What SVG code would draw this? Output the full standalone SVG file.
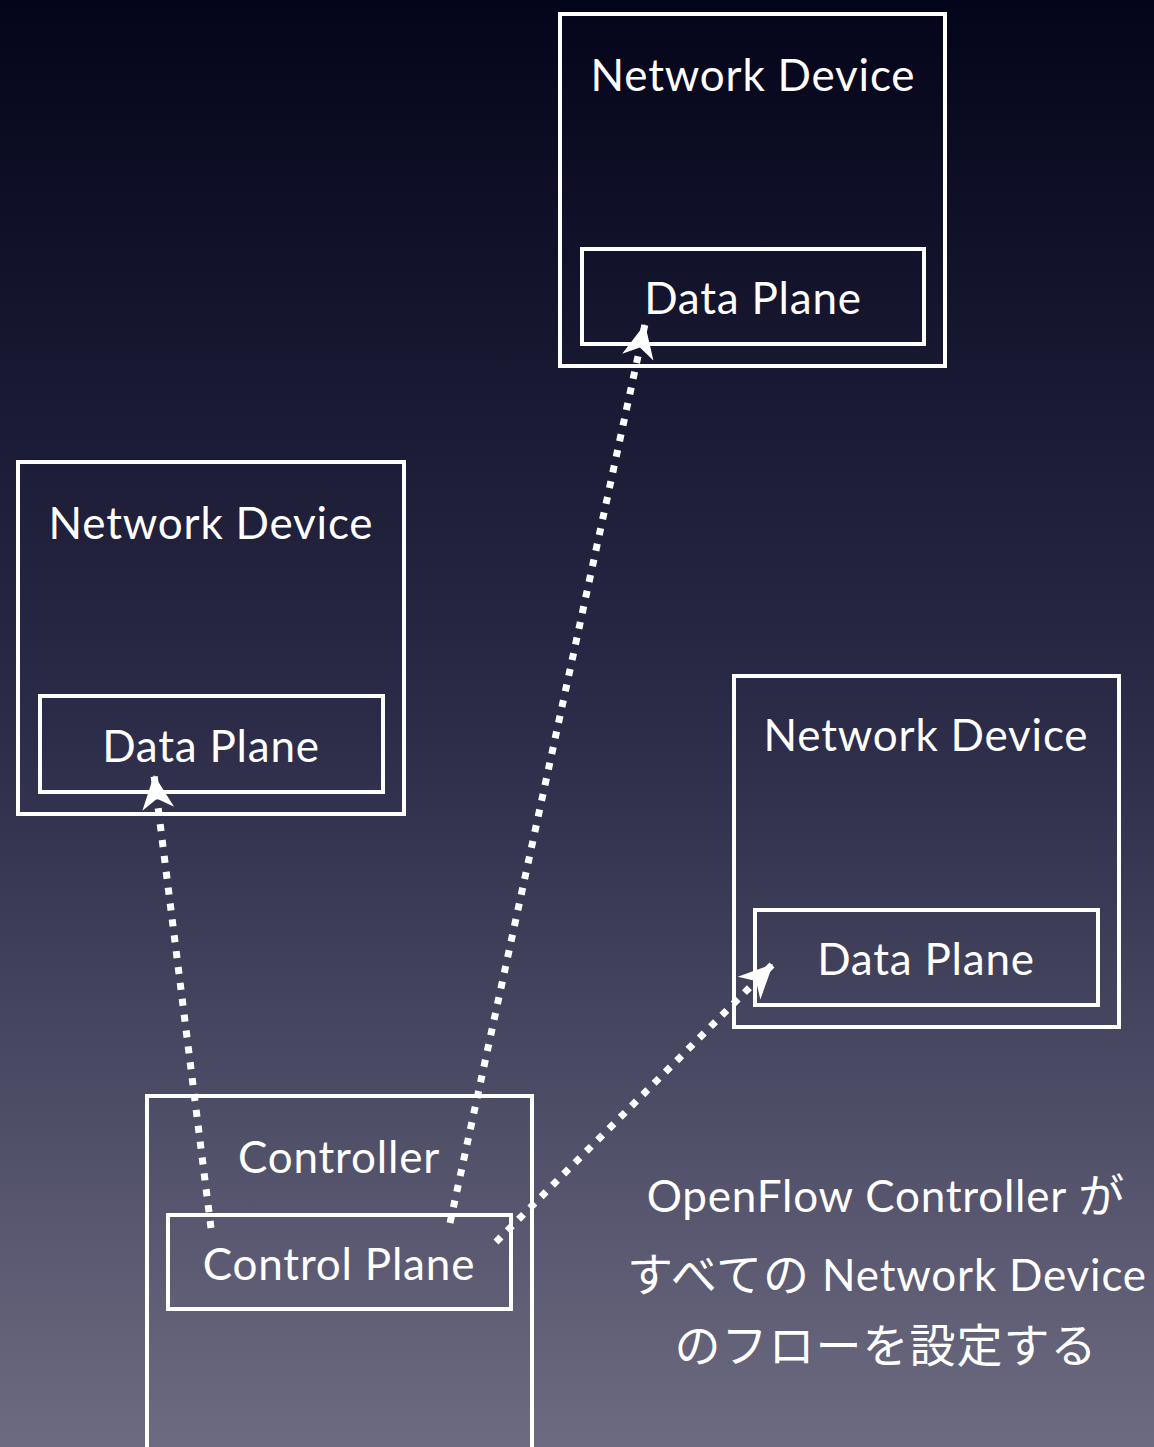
<svg xmlns="http://www.w3.org/2000/svg" width="1154" height="1447" viewBox="0 0 1154 1447">
<defs>
<linearGradient id="bg" x1="0" y1="0" x2="0" y2="1">
<stop offset="0" stop-color="#04041a"/>
<stop offset="0.5" stop-color="#2c2b48"/>
<stop offset="1" stop-color="#6c6b81"/>
</linearGradient>
<marker id="arr" markerUnits="userSpaceOnUse" markerWidth="40" markerHeight="40" viewBox="-36 -20 40 40" refX="0" refY="0" orient="auto">
<path d="M0,0 L-34,-16 L-24,0 L-34,16 Z" fill="#ffffff"/>
</marker>
<style>
.box{fill:none;stroke:#ffffff;stroke-width:4}
.lbl{font-family:"Lato","Noto Sans CJK JP",sans-serif;font-size:44px;letter-spacing:0.8px;fill:#ffffff;text-anchor:middle}
.jp{font-size:46px;letter-spacing:1px}
.conn{stroke:#ffffff;stroke-width:7;stroke-dasharray:7 9;fill:none;marker-end:url(#arr)}
</style>
</defs>
<rect x="0" y="0" width="1154" height="1447" fill="url(#bg)"/>
<g id="device-top">
<rect class="box" x="560" y="14" width="385" height="352"/>
<text class="lbl" x="753" y="91">Network Device</text>
<rect class="box" x="582" y="249" width="342" height="95"/>
<text class="lbl" x="753" y="314">Data Plane</text>
</g>
<g id="device-left">
<rect class="box" x="18" y="462" width="386" height="352"/>
<text class="lbl" x="211" y="539">Network Device</text>
<rect class="box" x="40" y="696" width="343" height="96"/>
<text class="lbl" x="211" y="762">Data Plane</text>
</g>
<g id="device-right">
<rect class="box" x="734" y="676" width="385" height="351"/>
<text class="lbl" x="926" y="751">Network Device</text>
<rect class="box" x="755" y="910" width="343" height="95"/>
<text class="lbl" x="926" y="975">Data Plane</text>
</g>
<g id="controller">
<rect class="box" x="147" y="1096" width="385" height="360"/>
<text class="lbl" x="339" y="1173">Controller</text>
<rect class="box" x="168" y="1215" width="343" height="94"/>
<text class="lbl" x="339" y="1280">Control Plane</text>
</g>
<g id="note">
<text class="lbl" x="886" y="1212">OpenFlow Controller <tspan class="jp">が</tspan></text>
<text class="lbl" x="887" y="1291"><tspan class="jp">すべての</tspan> Network Device</text>
<text class="lbl" x="886" y="1362"><tspan class="jp">のフローを設定する</tspan></text>
</g>
<g id="connectors">
<line class="conn" x1="211" y1="1228" x2="154" y2="775"/>
<line class="conn" x1="450" y1="1223" x2="645" y2="324"/>
<line class="conn" x1="496" y1="1242" x2="773" y2="964"/>
</g>
</svg>
